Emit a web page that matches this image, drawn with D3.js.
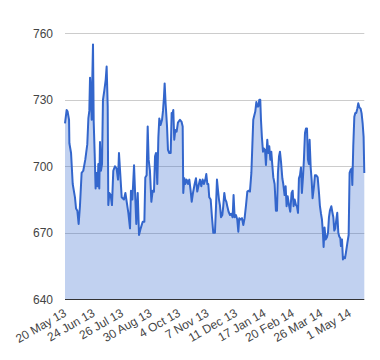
<!DOCTYPE html>
<html><head><meta charset="utf-8">
<script src="https://cdn.jsdelivr.net/npm/d3@7"></script>
<style>html,body{margin:0;padding:0;background:#fff;}svg{display:block;font-family:Arial,"Liberation Sans",sans-serif;}</style>
</head><body><svg id="c" width="380" height="360"></svg>
<script>
// trading-day index of each reading
const days = [0.0,1.4,2.2,3.4,3.7,5.1,6.5,8.4,9.3,10.4,11.5,12.6,14.0,15.4,17.1,18.8,19.7,20.5,21.1,21.9,22.5,23.0,23.6,24.2,25.0,25.8,26.7,27.5,28.1,28.9,29.5,30.3,31.2,32.0,33.1,34.3,35.1,36.0,36.5,37.4,38.5,39.6,40.7,42.1,43.5,44.7,45.5,
47.8,49.7,50.9,52.0,53.4,54.8,55.6,56.8,58.2,59.3,60.1,61.3,62.4,63.8,65.5,66.9,67.7,68.8,69.7,70.5,71.6,72.8,73.9,75.0,75.9,76.7,77.8,78.7,79.5,80.6,81.8,82.6,83.4,84.0,84.8,86.0,86.8,87.9,89.1,89.9,90.7,91.3,92.1,93.0,94.1,95.2,96.9,98.3,99.2,99.7,100.6,101.4,102.5,103.7,104.8,105.9,106.8,107.9,109.3,110.4,111.5,112.7,113.8,114.9,116.0,117.1,118.3,119.1,120.0,120.8,121.6,122.8,123.9,125.0,126.4,127.3,128.1,129.0,129.8,130.6,131.5,132.6,133.4,134.3,135.1,136.0,136.8,137.9,139.1,140.2,141.3,142.1,143.0,144.1,145.2,146.1,146.9,148.0,149.2,150.3,151.4,
152.6,153.7,154.8,155.9,157.1,157.9,158.7,159.6,160.4,161.3,162.1,163.0,163.8,164.6,165.2,166.0,166.9,167.7,168.6,169.4,170.5,171.4,172.2,173.1,173.9,174.7,175.6,176.7,177.8,178.7,179.5,180.4,181.2,182.1,183.2,184.0,185.1,186.0,186.8,187.7,188.8,189.9,191.0,191.9,192.7,193.6,194.7,195.5,196.4,197.2,198.1,198.9,199.7,200.6,201.4,202.3,203.1,204.0,204.8,205.6,206.2,207.1,207.9,208.7,209.9,210.7,211.8,213.0,214.1,214.9,215.8,216.6,217.4,218.0,218.8,219.7,220.8,221.7,222.5,223.3,224.5,225.3,226.2,227.0,227.8,228.7,229.5,230.4,231.2,232.1,232.6,233.5,234.3,235.1,236.0,236.8,238.0,239.1,239.9,240.8,241.6,242.2,243.0,243.9,244.7,245.5,246.4,247.2,248.1,249.2,250.0,250.9,251.7,252.3];
const values = [719.4,725.4,724.7,721,710.4,706,692,686,681,680,674,682,697,698,703,710,721.6,725,740,731,721,739,755,720,706,690,697,691,701,690,711,698,701,730,734,739,745,727,682.5,688,687,682.5,698,700,699,694,706,
686,685,688,684,679,672,689,685,700.5,685,674,688,669,672,675,675,695,696,718,703,698,684,689,688.5,704.5,706,692,713,721.6,718.6,721,725,731,737.4,728.4,718,707.4,706,706,724,724,725.4,712,716.4,715.6,719.7,721,720,718,688,694.6,692,694,692,694,689,684,688,692,694.6,688.6,691.6,694,691,694,692,694,696.5,692,692,686,685,677,670,670,682,694,689,685,682.5,677,678,682,688,685,684,682,679.5,678,678.6,677,687,677,678,676,670.5,676.6,676,676.6,673.5,676.6,
682.5,688.6,689,688.6,697,709,721,723,724.7,729,727,727,730,730,721,713,706.6,708,707.4,700.6,712,706,709,703,706.6,701,695,692,680,680,697,704.4,706.6,702,694.6,692,687,691,682,686.5,682.5,679.5,688,689,682,685,682.5,682,679,694.6,696,699.5,688,695,703,715,717,717,703,701,712,699.5,694,685.6,691,696,696,695,688,682,678.6,676,670,663.6,672.4,667,668,670,677,680,682,679.5,677,671,672,676,679,670,668.3,667.5,664,667,658,659,658.5,661,665.3,669,697,698.4,699,691.6,709,722.4,724,724,726,728.4,726.6,726,724,719.4,713.4,697];
const yTicks = [640, 670, 700, 730, 760];
const xTickDays = [2, 26, 50, 74, 98, 122, 146, 170, 194, 218, 242];
const xTickLabels = ["20 May 13","24 Jun 13","26 Jul 13","30 Aug 13","4 Oct 13","7 Nov 13","11 Dec 13","17 Jan 14","20 Feb 14","26 Mar 14","1 May 14"];

const svg = d3.select("#c");
const L = 65, R = 364.3, T = 33.3, B = 299.3;
const x = d3.scaleLinear().domain([0, 252.3]).range([L, R]);
const y = d3.scaleLinear().domain([640, 760]).range([B, T]);
const data = days.map((d, i) => ({d, v: values[i]}));

// gridlines
svg.append("g").selectAll("line").data(yTicks.filter(t => t !== 640)).join("line")
  .attr("x1", L).attr("x2", R).attr("y1", d => Math.round(y(d)) + 0.5).attr("y2", d => Math.round(y(d)) + 0.5)
  .attr("stroke", "#cccccc").attr("stroke-width", 1);

// area
svg.append("path").datum(data)
  .attr("d", d3.area().x(p => x(p.d)).y0(y(640)).y1(p => y(p.v)))
  .attr("fill", "#3366cc").attr("fill-opacity", 0.3);

// line
svg.append("path").datum(data)
  .attr("d", d3.line().x(p => x(p.d)).y(p => y(p.v)))
  .attr("fill", "none").attr("stroke", "#3366cc").attr("stroke-width", 2).attr("stroke-linejoin", "round");

// baseline
svg.append("line").attr("x1", L).attr("x2", R).attr("y1", Math.round(y(640)) + 0.5).attr("y2", Math.round(y(640)) + 0.5)
  .attr("stroke", "#333333").attr("stroke-width", 1);

// y labels
svg.append("g").selectAll("text").data(yTicks).join("text")
  .attr("x", 53).attr("y", d => y(d)).attr("dy", "0.35em")
  .attr("text-anchor", "end").attr("font-size", 12).attr("fill", "#444")
  .text(d => d);

// x labels
svg.append("g").selectAll("text").data(xTickDays).join("text")
  .attr("transform", d => `translate(${x(d)},${B + 16}) rotate(-30)`)
  .attr("text-anchor", "end").attr("font-size", 12).attr("fill", "#444")
  .text((d, i) => xTickLabels[i]);
</script></body></html>
